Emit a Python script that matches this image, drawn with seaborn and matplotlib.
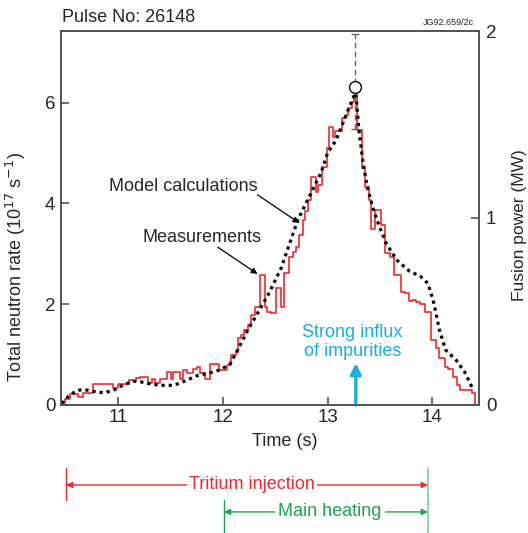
import numpy as np
import pandas as pd
import seaborn as sns
import matplotlib
matplotlib.use("Agg")
from matplotlib import pyplot as plt

# measured neutron rate (step histogram, left bin edges)
meas_t = [10.455, 10.49, 10.535, 10.615, 10.66, 10.76, 10.95, 11.00, 11.10, 11.14,
          11.17, 11.21, 11.28, 11.32, 11.35, 11.40, 11.46, 11.50, 11.52, 11.59,
          11.62, 11.66, 11.71, 11.75, 11.78, 11.83, 11.88, 11.96, 12.035, 12.08,
          12.12, 12.14, 12.17, 12.20, 12.235, 12.27, 12.31, 12.356, 12.40, 12.42,
          12.46, 12.51, 12.555, 12.587, 12.635, 12.667, 12.70, 12.73, 12.763, 12.78,
          12.81, 12.843, 12.89, 12.905, 12.95, 12.99, 13.01, 13.05, 13.075, 13.14,
          13.18, 13.20, 13.23, 13.255, 13.285, 13.33, 13.36, 13.40, 13.42, 13.45,
          13.51, 13.55, 13.60, 13.64, 13.70, 13.74, 13.78, 13.81, 13.85, 13.88,
          13.93, 13.99, 14.04, 14.07, 14.12, 14.15, 14.20, 14.24, 14.27, 14.38, 14.41]
meas_v = [0.04, 0.11, 0.21, 0.16, 0.24, 0.41, 0.34, 0.42, 0.50, 0.47,
          0.53, 0.56, 0.43, 0.51, 0.43, 0.51, 0.66, 0.51, 0.66, 0.51,
          0.69, 0.63, 0.71, 0.75, 0.63, 0.51, 0.81, 0.69, 0.80, 0.99,
          1.05, 1.33, 1.39, 1.49, 1.59, 1.79, 1.95, 2.58, 1.95, 1.85,
          1.82, 2.32, 1.95, 2.62, 2.94, 3.04, 3.14, 3.37, 3.67, 3.84,
          4.07, 4.53, 4.23, 4.37, 4.72, 5.10, 5.52, 5.31, 5.43, 5.69,
          5.76, 5.90, 6.02, 6.12, 5.46, 4.70, 4.33, 4.07, 3.49, 3.87,
          3.57, 3.02, 2.93, 2.58, 2.25, 2.23, 2.06, 2.09, 2.04, 2.00,
          1.85, 1.29, 1.13, 0.93, 0.76, 0.72, 0.56, 0.40, 0.30, 0.23, 0.0]

# model calculation (dotted)
model_t = [10.456, 10.535, 10.60, 10.66, 10.76, 10.86, 10.95, 11.05, 11.14, 11.21,
           11.30, 11.40, 11.53, 11.63, 11.75, 11.88, 11.98, 12.07, 12.14, 12.235,
           12.33, 12.43, 12.555, 12.715, 12.84, 12.94, 13.00, 13.08, 13.21, 13.25,
           13.27, 13.30, 13.34, 13.38, 13.43, 13.49, 13.56, 13.66, 13.78, 13.89,
           13.96, 14.01, 14.07, 14.13, 14.23, 14.31, 14.38]
model_v = [0.03, 0.20, 0.28, 0.31, 0.27, 0.24, 0.29, 0.40, 0.47, 0.46,
           0.42, 0.39, 0.39, 0.47, 0.58, 0.64, 0.70, 0.82, 1.09, 1.48,
           1.82, 2.18, 2.71, 3.67, 4.20, 4.62, 5.00, 5.25, 5.92, 6.12,
           6.19, 5.46, 4.80, 4.33, 3.93, 3.57, 3.21, 2.88, 2.66, 2.55,
           2.41, 2.08, 1.49, 1.09, 0.89, 0.66, 0.36]

# peak point with error bar
peak_t = 13.26
peak_v = 6.30
peak_err_lo = 0.82
peak_err_hi = 1.06

impurity_t = 13.27
impurity_v = 0.83
tritium_span = [10.50, 13.96]
heating_span = [12.01, 13.96]

RED = "#ee2a30"
BLUE = "#1aaee6"
GREEN = "#1ba254"
GREY = "#555555"
FS = 13

sns.set_style("ticks")
plt.rcParams["font.family"] = ["Liberation Sans", "DejaVu Sans"]

fig = plt.figure(figsize=(5.28, 5.33), dpi=100)
ax = fig.add_axes([0.1155, 0.2402, 0.792, 0.7016])

df_m = pd.DataFrame({"t": meas_t, "v": meas_v})
df_c = pd.DataFrame({"t": model_t, "v": model_v})
sns.lineplot(data=df_m, x="t", y="v", ax=ax, color=RED, lw=1.2,
             drawstyle="steps-post", estimator=None, sort=False)
sns.lineplot(data=df_c, x="t", y="v", ax=ax, color="black", lw=2.3,
             linestyle=(0, (1, 1.25)), dash_capstyle="butt",
             estimator=None, sort=False)

eb = ax.errorbar([peak_t], [peak_v], yerr=[[peak_err_lo], [peak_err_hi]],
                 fmt="o", ms=8.5, mfc="white", mec="black", mew=1.0,
                 ecolor="#666666", elinewidth=1.0, capsize=3, zorder=5)
eb[2][0].set_linestyle((0, (4, 2.5)))

ax.set_xlim(10.45, 14.45)
ax.set_ylim(0, 7.42)
ax.set_xticks([11, 12, 13, 14])
ax.set_yticks([0, 2, 4, 6])
ax.tick_params(direction="in", length=6, width=1.2, color=GREY, labelsize=13.5, pad=4)
ax.tick_params(axis="x", pad=3)
for s in ax.spines.values():
    s.set_color(GREY)
    s.set_linewidth(1.3)

ax.set_xlabel("Time (s)", fontsize=FS)
ax.xaxis.set_label_coords(0.536, -0.075)
ax.set_ylabel("Total neutron rate (10$^{17}$ s$^{-1}$)", fontsize=FS)
ax.yaxis.set_label_coords(-0.079, 0.37)

ax2 = ax.twinx()
ax2.set_ylim(0, 2)
ax2.set_yticks([0, 1, 2])
ax2.tick_params(direction="in", length=6, width=1.2, color=GREY, labelsize=13.5, pad=5)
for s in ax2.spines.values():
    s.set_color(GREY)
    s.set_linewidth(1.3)
ax2.set_ylabel("Fusion power (MW)", fontsize=12.5)
ax2.yaxis.set_label_coords(1.078, 0.48)

# text annotations with arrows starting at the text end
ax.text(11.62, 4.33, "Model calculations", fontsize=FS, ha="center", va="center")
ax.annotate("", xy=(12.73, 3.61), xytext=(12.33, 4.17),
            arrowprops=dict(arrowstyle="-|>", color="black", lw=0.9,
                            mutation_scale=9, shrinkA=0, shrinkB=0))
ax.text(11.80, 3.33, "Measurements", fontsize=FS, ha="center", va="center")
ax.annotate("", xy=(12.33, 2.60), xytext=(11.95, 3.13),
            arrowprops=dict(arrowstyle="-|>", color="black", lw=0.9,
                            mutation_scale=9, shrinkA=0, shrinkB=0))

ax.annotate("", xy=(impurity_t, impurity_v), xytext=(impurity_t, 0),
            arrowprops=dict(arrowstyle="-|>", color=BLUE, lw=2.4,
                            mutation_scale=16, shrinkA=0, shrinkB=0))
ax.text(13.24, 1.25, "Strong influx\nof impurities", color=BLUE, fontsize=FS,
        ha="center", va="center", linespacing=1.1)

fig.text(62 / 528, 1 - 17 / 533, "Pulse No: 26148", fontsize=FS, va="center", ha="left")
fig.text(474 / 528, 1 - 22 / 533, "JG92.659/2c", fontsize=6.5, va="center", ha="right")

# injection / heating spans below the axis
tr = ax.get_xaxis_transform()
ax.annotate("", xy=(tritium_span[0], -0.214), xytext=(tritium_span[1], -0.214),
            xycoords=tr, textcoords=tr, annotation_clip=False,
            arrowprops=dict(arrowstyle="<|-|>", color=RED, lw=1.0,
                            mutation_scale=9, shrinkA=0, shrinkB=0))
ax.text(12.275, -0.214, "Tritium injection", transform=tr, color=RED, fontsize=FS,
        ha="center", va="center", clip_on=False,
        bbox=dict(fc="white", ec="none", pad=1.5))
ax.annotate("", xy=(heating_span[0], -0.286), xytext=(heating_span[1], -0.286),
            xycoords=tr, textcoords=tr, annotation_clip=False,
            arrowprops=dict(arrowstyle="<|-|>", color=GREEN, lw=1.0,
                            mutation_scale=9, shrinkA=0, shrinkB=0))
ax.text(13.02, -0.286, "Main heating", transform=tr, color=GREEN, fontsize=FS,
        ha="center", va="center", clip_on=False,
        bbox=dict(fc="white", ec="none", pad=2.5))
ax.plot([tritium_span[0]] * 2, [-0.168, -0.254], transform=tr, color=RED,
        lw=1.0, clip_on=False)
ax.plot([tritium_span[1]] * 2, [-0.168, -0.345], transform=tr, color="#7fcf9a",
        lw=1.2, clip_on=False)
ax.plot([heating_span[0]] * 2, [-0.254, -0.345], transform=tr, color=GREEN,
        lw=1.0, clip_on=False)

fig.savefig("out.png", dpi=100)
